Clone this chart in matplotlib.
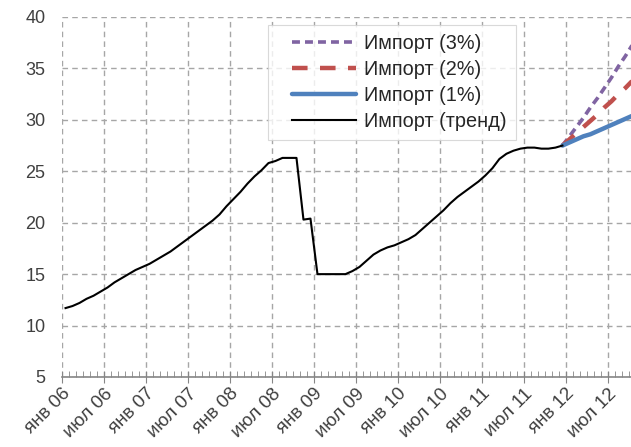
import numpy as np
import matplotlib
matplotlib.use("Agg")
from matplotlib import pyplot as plt
from matplotlib.ticker import MultipleLocator
from matplotlib.transforms import ScaledTranslation
from matplotlib.lines import Line2D
from matplotlib.legend_handler import HandlerLine2D

plt.rcParams['font.family'] = ['Liberation Sans', 'DejaVu Sans']

# monthly import trend, Jan 2006 .. Dec 2011
trend = [11.7, 11.9, 12.2, 12.6, 12.9, 13.3, 13.7, 14.2, 14.6, 15.0, 15.4, 15.7,
         16.0, 16.4, 16.8, 17.2, 17.7, 18.2, 18.7, 19.2, 19.7, 20.2, 20.8, 21.6,
         22.3, 23.0, 23.8, 24.5, 25.1, 25.8, 26.0, 26.3, 26.3, 26.3, 20.3, 20.4,
         15.0, 15.0, 15.0, 15.0, 15.0, 15.3, 15.7, 16.3, 16.9, 17.3, 17.6, 17.8,
         18.1, 18.4, 18.8, 19.4, 20.0, 20.6, 21.2, 21.9, 22.5, 23.0, 23.5, 24.0,
         24.6, 25.3, 26.2, 26.7, 27.0, 27.2, 27.3, 27.3, 27.2, 27.2, 27.3, 27.5]

# scenarios, Dec 2011 .. Nov 2012
imp1 = [27.5, 27.8, 28.1, 28.4, 28.6, 28.9, 29.2, 29.5, 29.8, 30.1, 30.4, 30.7]
imp2 = [27.5, 28.1, 28.7, 29.3, 29.9, 30.5, 31.2, 31.8, 32.5, 33.1, 33.8, 34.5]
imp3 = [27.5, 28.4, 29.3, 30.2, 31.2, 32.1, 33.1, 34.1, 35.2, 36.2, 37.3, 38.4]

tick_labels = ['янв 06', 'июл 06', 'янв 07', 'июл 07', 'янв 08', 'июл 08', 'янв 09',
               'июл 09', 'янв 10', 'июл 10', 'янв 11', 'июл 11', 'янв 12', 'июл 12']

fig = plt.figure(figsize=(6.31, 4.47), dpi=100)
ax = fig.add_axes([0.0983, 0.1566, 0.9017, 0.8054])

x_trend = np.arange(len(trend)) + 0.5
x_fc = np.arange(len(trend) - 1, len(trend) - 1 + len(imp1)) + 0.5

ax.plot(x_fc, imp3, color='#8064A2', lw=2.6, dashes=(2.2, 1.4), label='Импорт (3%)')
ax.plot(x_fc, imp2, color='#C0504D', lw=3.2, dashes=(3.5, 2.8), label='Импорт (2%)')
ax.plot(x_fc, imp1, color='#4F81BD', lw=3.2, label='Импорт (1%)', solid_capstyle='round')
ax.plot(x_trend, trend, color='black', lw=1.5, label='Импорт (тренд)')

ax.set_xlim(0, 81.3)
ax.set_ylim(5, 40)
ax.yaxis.set_major_locator(MultipleLocator(5))
ax.set_xticks(np.arange(0, 6 * len(tick_labels), 6))
ax.set_xticklabels(tick_labels, rotation=45, ha='right', rotation_mode='anchor')
ax.xaxis.set_minor_locator(MultipleLocator(1))

# shift rotated labels so their end sits just right of the tick
shift = ScaledTranslation(6 / 100, -7 / 100, fig.dpi_scale_trans)
for lab in ax.get_xticklabels():
    lab.set_transform(lab.get_transform() + shift)

ax.grid(True, color='#a6a6a6', linestyle=(0, (4, 3)), linewidth=1)
for s in ['top', 'right', 'left']:
    ax.spines[s].set_visible(False)
ax.spines['bottom'].set_color('#868686')
ax.spines['bottom'].set_linewidth(1.2)

ax.tick_params(axis='x', which='major', direction='inout', length=8, color='#868686',
               labelsize=13.5, pad=2, labelcolor='#404040')
ax.tick_params(axis='x', which='minor', direction='in', length=4, color='#868686')
ax.tick_params(axis='y', length=0, labelsize=13, pad=12, labelcolor='#404040')

leg = ax.legend(loc='upper left', bbox_to_anchor=(0.362, 0.978), fontsize=14.3,
                frameon=True, fancybox=False, handlelength=4.0, handletextpad=0.4,
                labelspacing=0.35, borderpad=0.45, borderaxespad=0,
                handler_map={Line2D: HandlerLine2D(xpad=0.75)})
leg.get_frame().set_edgecolor('#d0d0d0')
leg.get_frame().set_linewidth(0.8)
for t in leg.get_texts():
    t.set_color('#262626')

fig.savefig('out.png', dpi=100)
